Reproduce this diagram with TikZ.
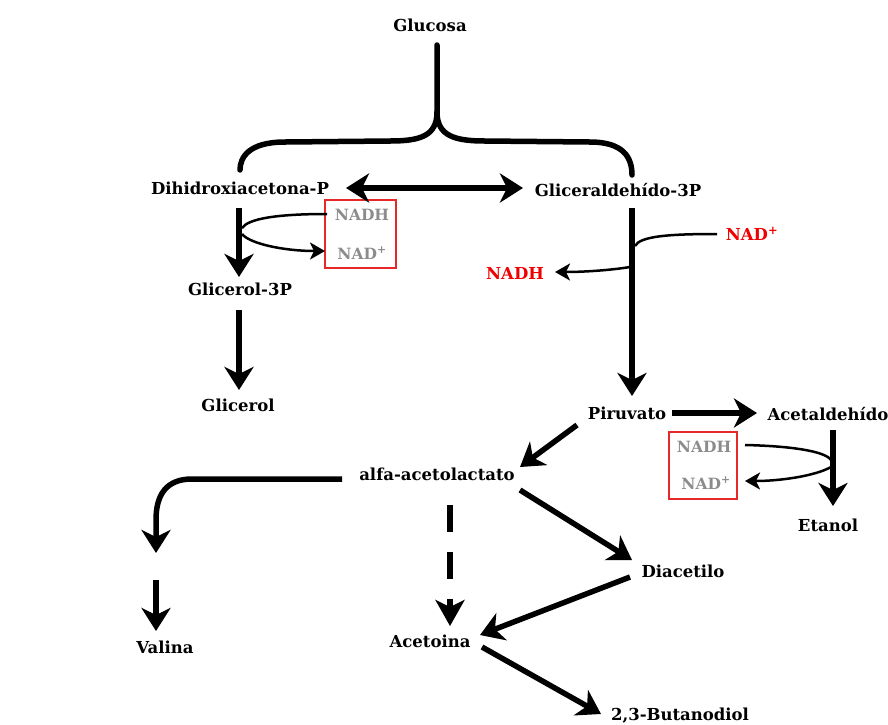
\documentclass[tikz,border=0pt]{standalone}
\usepackage{fontspec}
\setmainfont{DejaVu Serif}
\usetikzlibrary{arrows.meta}
\definecolor{boxred}{RGB}{230,40,40}
\definecolor{nadred}{RGB}{240,0,0}
\definecolor{nadgray}{RGB}{140,140,140}
\begin{document}
\begin{tikzpicture}[x=1pt,y=-1pt,
  lbl/.style={font=\fontsize{16.5}{18}\selectfont\bfseries, inner sep=1pt},
  redlbl/.style={lbl, text=nadred},
  graylbl/.style={lbl, font=\fontsize{15.5}{18}\selectfont\bfseries, text=nadgray},
  thick arrow/.style={line width=5.5pt, -{Stealth[length=23pt,width=29pt,inset=7pt]}},
  thin arrow/.style={line width=2.5pt, -{Stealth[length=15pt,width=17pt,inset=4pt]}},
  thin line/.style={line width=2.5pt},
  bracket/.style={line width=5.5pt, line cap=round},
  nadbox/.style={draw=boxred, line width=1.2pt}
]
\useasboundingbox (0,0) rectangle (888,724);

% nodes
\node[lbl] (glu) at (430,25) {Glucosa};
\node[lbl] (dhap) at (240,188) {Dihidroxiacetona-P};
\node[lbl] (g3p) at (618,190) {Gliceraldehído-3P};
\node[lbl] (gl3p) at (240,289) {Glicerol-3P};
\node[lbl] (gol) at (238,405) {Glicerol};
\node[lbl] (pir) at (627,413) {Piruvato};
\node[lbl] (acet) at (828,414) {Acetaldehído};
\node[lbl] (etan) at (828,525) {Etanol};
\node[lbl] (alfa) at (437,474) {alfa-acetolactato};
\node[lbl] (val) at (165,647) {Valina};
\node[lbl] (acto) at (430,641) {Acetoina};
\node[lbl] (diac) at (683,571) {Diacetilo};
\node[lbl] (but) at (680,716) {2,3-Butanodiol};

% red boxes with gray labels
\draw[nadbox] (325,200) rectangle (396,268);
\node[graylbl] (nadh1) at (362,215) {NADH};
\node[graylbl] (nad1) at (362,253) {NAD\textsuperscript{+}};
\draw[nadbox] (669,432) rectangle (737,499);
\node[graylbl] (nadh2) at (704,447) {NADH};
\node[graylbl] (nad2) at (706,483) {NAD\textsuperscript{+}};

% red labels
\node[redlbl] (nadp3) at (752,234) {NAD\textsuperscript{+}};
\node[redlbl] (nadh3) at (515,273) {NADH};

% coordinates
\coordinate (gtop) at (437,45);
\coordinate (gmid) at (437,112);
\coordinate (lend) at (240,170);
\coordinate (rend) at (632,175);

% bracket
\draw[bracket] (gtop) -- (gmid)
  .. controls (437,136) and (420,141) .. (390,141) -- (285,142)
  .. controls (248,142) and (240,158) .. (lend);
\draw[bracket] (gmid)
  .. controls (437,136) and (455,141) .. (485,141) -- (590,142)
  .. controls (624,142) and (632,158) .. (rend);

% double arrow
\draw[line width=5.5pt, {Stealth[length=23pt,width=29pt,inset=7pt]}-{Stealth[length=23pt,width=29pt,inset=7pt]}] (346,188) -- (523,188);

% left branch
\draw[thick arrow] (239,208) -- (239,277);
\draw[thin line] (327,214) .. controls (275,214) and (248,219) .. (242,228);
\draw[thin arrow] (242,234) .. controls (250,244) and (285,251) .. (325,251);
\draw[thick arrow] (239,310) -- (239,390);

% right branch
\draw[thick arrow] (632,208) -- (632,396);
\draw[thin line] (717,234) .. controls (670,234) and (640,236) .. (635,246);
\draw[thin arrow] (630,267) .. controls (612,270) and (585,272) .. (555,272);

% pyruvate -> acetaldehyde -> ethanol
\draw[thick arrow] (672,413) -- (757,413);
\draw[thick arrow] (833,430) -- (833,506);
\draw[thin line] (745,445) .. controls (790,446) and (825,451) .. (831,460);
\draw[thin arrow] (831,467) .. controls (815,476) and (780,481) .. (745,481);

% pyruvate -> alfa-acetolactato
\draw[thick arrow] (577,425) -- (520,467);

% alfa -> valina
\draw[thick arrow] (342,479) -- (192,479) .. controls (166,479) and (156,495) .. (156,520) -- (156,553);
\draw[thick arrow] (156,580) -- (156,631);

% alfa -> acetoina (dashed)
\draw[line width=5.5pt, dash pattern=on 27pt off 20pt, -{Stealth[length=26pt,width=29pt,inset=7pt]}] (450,505) -- (450,626);

% alfa -> diacetilo -> acetoina -> butanodiol
\draw[thick arrow] (520,490) -- (632,560);
\draw[thick arrow] (630,577) -- (480,635);
\draw[thick arrow] (482,647) -- (601,714);
\end{tikzpicture}
\end{document}
